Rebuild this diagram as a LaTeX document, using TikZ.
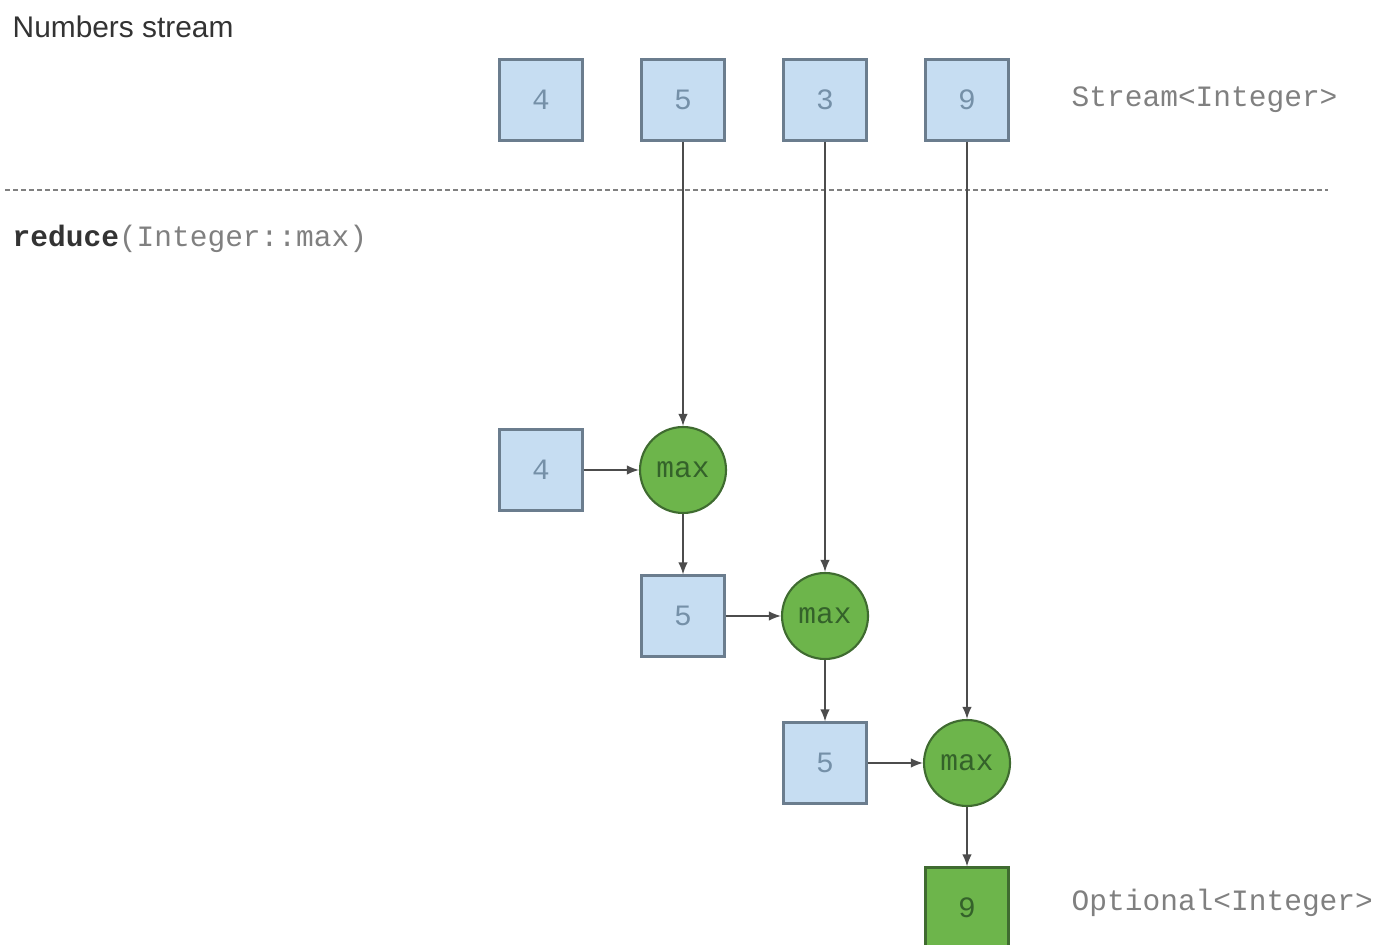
\documentclass[tikz,border=0pt]{standalone}
\usepackage{fontspec}
\setmainfont{Liberation Sans}
\setmonofont{Liberation Mono}
\usetikzlibrary{arrows.meta}
\definecolor{boxblue}{HTML}{C6DDF2}
\definecolor{boxline}{HTML}{6B7D8E}
\definecolor{numtext}{HTML}{7590A8}
\definecolor{maxgreen}{HTML}{6DB54B}
\definecolor{maxline}{HTML}{3F6B30}
\definecolor{maxtext}{HTML}{34622A}
\definecolor{labtext}{HTML}{808080}
\begin{document}
\begin{tikzpicture}
[x=1cm,y=1cm,
 every node/.style={font=\fontsize{8.4}{10}\selectfont\ttfamily},
 numbox/.style={rectangle,draw=boxline,line width=.6pt,fill=boxblue,text=numtext,minimum width=.83cm,minimum height=.81cm,inner sep=0},
 resbox/.style={numbox,fill=maxgreen,draw=maxline,text=maxtext},
 maxnode/.style={circle,draw=maxline,line width=.6pt,fill=maxgreen,text=maxtext,minimum size=.86cm,inner sep=0},
 lab/.style={anchor=west,inner sep=0,text=labtext},
 flow/.style={draw=black!70,line width=.45pt,-{Latex[length=1.2mm,width=.95mm]}}]
\useasboundingbox (0,0) rectangle (13.78,-9.45);
\node[anchor=west,inner sep=0,text=black!80,font=\fontsize{8.5}{10}\selectfont\rmfamily] (title) at (.12,-.27) {Numbers stream};
\foreach \v [count=\i] in {4,5,3,9}
{
  \node[numbox] (s\i) at ({5.41+1.42*(\i-1)},-1.0) {\v};
}
\node[lab] (stype) at (10.71,-1.0) {Stream<Integer>};
\draw[black!50,line width=.4pt,dash pattern=on .5mm off .3mm] (.05,-1.9) -- (13.28,-1.9);
\node[lab,text=labtext] (op) at (.12,-2.39) {\textcolor{black!80}{\textbf{reduce}}(Integer::max)};
% reduction chain
\node[numbox] (a1) at (5.41,-4.70) {4};
\node[maxnode] (m1) at (6.83,-4.70) {max};
\node[numbox] (a2) at (6.83,-6.16) {5};
\node[maxnode] (m2) at (8.25,-6.16) {max};
\node[numbox] (a3) at (8.25,-7.63) {5};
\node[maxnode] (m3) at (9.67,-7.63) {max};
\node[resbox] (res) at (9.67,-9.08) {9};
\node[lab] (rtype) at (10.71,-9.03) {Optional<Integer>};
\draw[flow] (s2) -- (m1);
\draw[flow] (s3) -- (m2);
\draw[flow] (s4) -- (m3);
\draw[flow] (a1) -- (m1);
\draw[flow] (m1) -- (a2);
\draw[flow] (a2) -- (m2);
\draw[flow] (m2) -- (a3);
\draw[flow] (a3) -- (m3);
\draw[flow] (m3) -- (res);
\end{tikzpicture}
\end{document}
